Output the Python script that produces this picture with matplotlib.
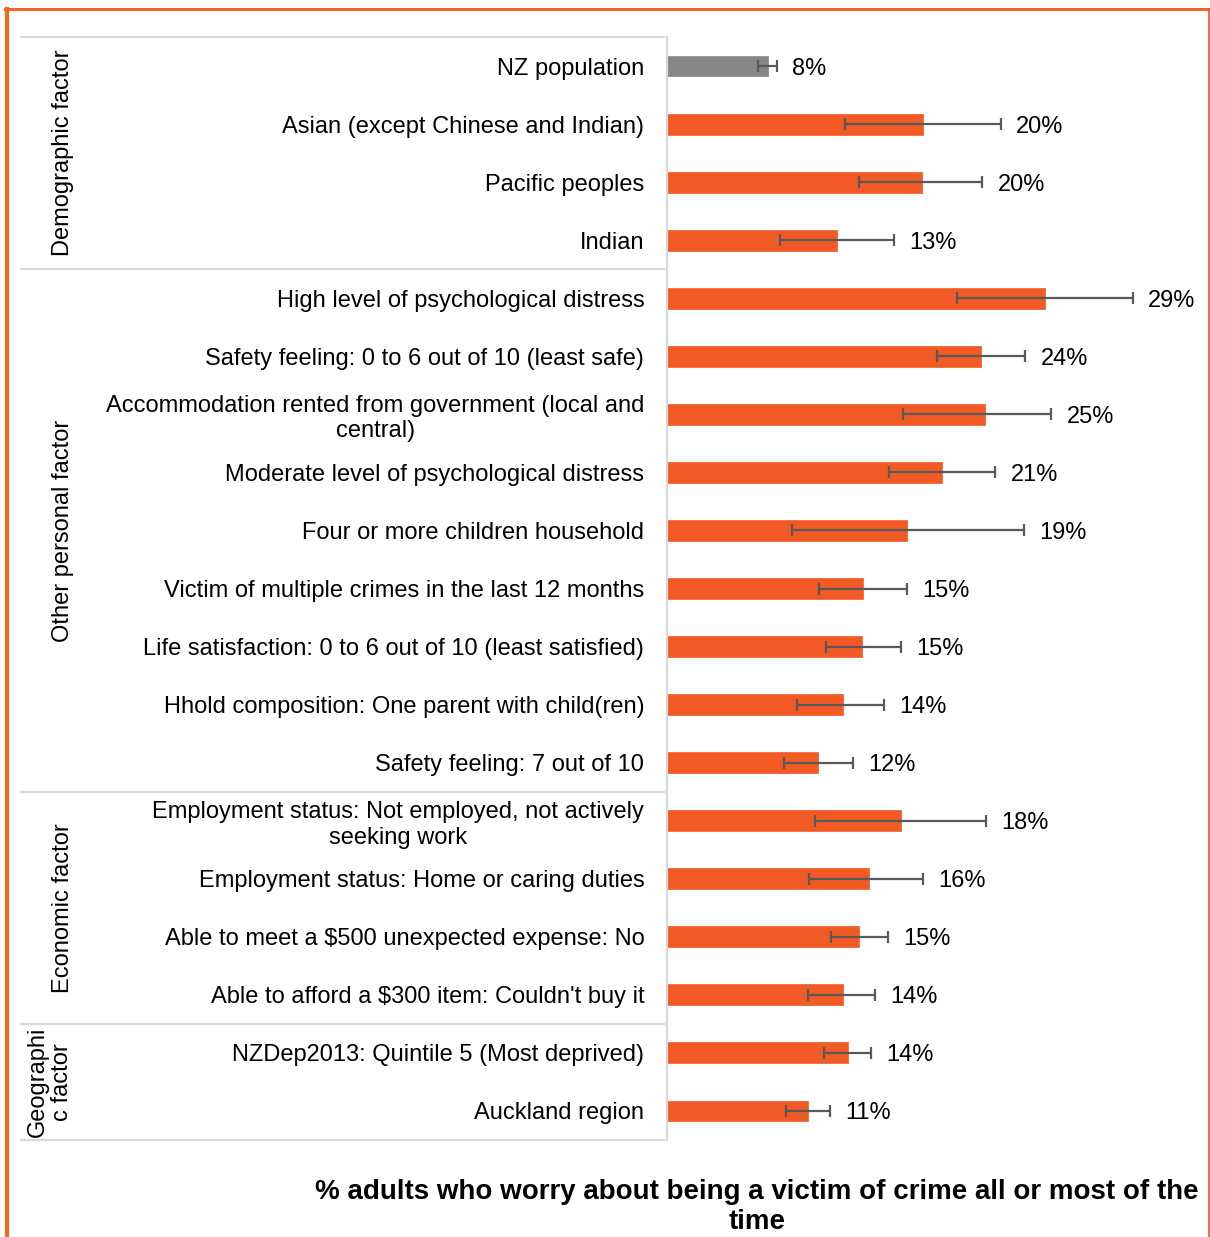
import matplotlib
matplotlib.use('Agg')
import matplotlib.pyplot as plt
from matplotlib.lines import Line2D

plt.rcParams['font.family'] = ['Liberation Sans', 'DejaVu Sans']

categories = [
    'NZ population',
    'Asian (except Chinese and Indian)',
    'Pacific peoples',
    'Indian',
    'High level of psychological distress',
    'Safety feeling: 0 to 6 out of 10 (least safe)',
    'Accommodation rented from government (local and\ncentral)',
    'Moderate level of psychological distress',
    'Four or more children household',
    'Victim of multiple crimes in the last 12 months',
    'Life satisfaction: 0 to 6 out of 10 (least satisfied)',
    'Hhold composition: One parent with child(ren)',
    'Safety feeling: 7 out of 10',
    'Employment status: Not employed, not actively\nseeking work',
    'Employment status: Home or caring duties',
    'Able to meet a $500 unexpected expense: No',
    "Able to afford a $300 item: Couldn't buy it",
    'NZDep2013: Quintile 5 (Most deprived)',
    'Auckland region',
]
groups = ['Demographic factor', 'Other personal factor', 'Economic factor', 'Geographi\nc factor']
group_sizes = [4, 9, 4, 2]

values = [7.8, 19.8, 19.7, 13.2, 29.2, 24.3, 24.6, 21.3, 18.6, 15.2,
          15.1, 13.6, 11.7, 18.1, 15.6, 14.9, 13.6, 14.0, 10.9]
ci_low = [7.1, 13.8, 14.9, 8.8, 22.4, 20.9, 18.3, 17.2, 9.7, 11.8,
          12.3, 10.1, 9.1, 11.5, 11.0, 12.7, 10.9, 12.2, 9.2]
ci_high = [8.5, 25.8, 24.4, 17.6, 36.0, 27.7, 29.7, 25.4, 27.6, 18.6,
           18.1, 16.8, 14.4, 24.7, 19.8, 17.1, 16.1, 15.8, 12.6]
is_total = [True] + [False] * 18

ORANGE = '#F15A24'
GREY = '#878787'
ERR = '#595959'
LINE = '#D9D9D9'

W, H = 1210, 1237
fig = plt.figure(figsize=(W / 100, H / 100), dpi=100)

top_px, bot_px = 37, 1140
bottom = 1 - bot_px / H
height = (bot_px - top_px) / H
x0_px, x1_px = 666.5, 1190
px_per_pct = 12.95

ax = fig.add_axes([x0_px / W, bottom, (x1_px - x0_px) / W, height])
n = len(categories)
ax.set_xlim(0, (x1_px - x0_px) / px_per_pct)
ax.set_ylim(n - 0.5, -0.5)
ypos = list(range(n))
colors = [GREY if t else ORANGE for t in is_total]
ax.barh(ypos, values, height=0.36, color=colors, edgecolor=colors, linewidth=0.5, zorder=2)
xerr = [[v - l for v, l in zip(values, ci_low)], [h - v for v, h in zip(values, ci_high)]]
ax.errorbar(values, ypos, xerr=xerr, fmt='none', ecolor=ERR, elinewidth=1.6,
            capsize=4, capthick=1.6, zorder=3)
for i, (v, h) in enumerate(zip(values, ci_high)):
    ax.annotate(f'{int(v + 0.5)}%', xy=(h, i), xytext=(11, 0), textcoords='offset points',
                ha='left', va='center_baseline', fontsize=17, color='black')

ax.set_yticks(ypos)
ax.set_yticklabels(categories, fontsize=17)
for lbl in ax.get_yticklabels():
    lbl.set_multialignment('center')
ax.tick_params(axis='y', length=0, pad=16)
ax.tick_params(axis='x', bottom=False, labelbottom=False)
for s in ['top', 'right', 'bottom']:
    ax.spines[s].set_visible(False)
ax.spines['left'].set_color(LINE)
ax.spines['left'].set_linewidth(1.6)

# left category panel
lx0, lx1 = 20, 665
axL = fig.add_axes([lx0 / W, bottom, (lx1 - lx0) / W, height])
axL.set_xlim(0, 1)
axL.set_ylim(n - 0.5, -0.5)
axL.axis('off')
bounds = [-0.5]
for g in group_sizes:
    bounds.append(bounds[-1] + g)
axL.hlines(bounds, 0, 1, colors=LINE, linewidth=1.6, clip_on=False)
for gname, a, b in zip(groups, bounds[:-1], bounds[1:]):
    nl = gname.count('\n') + 1
    xc = (63 - 13 * (nl - 1) - lx0) / (lx1 - lx0)
    axL.text(xc, (a + b) / 2, gname, rotation=90, ha='center', va='center',
             fontsize=17, multialignment='center', linespacing=1.1)

# title
fig.text(757 / W, 1 - 1207 / H,
         '% adults who worry about being a victim of crime all or most of the\ntime',
         ha='center', va='center', fontsize=20, fontweight='bold',
         multialignment='center', linespacing=1.22)

# border
fig.add_artist(Line2D([7 / W, 7 / W], [0, 1 - 8.5 / H], transform=fig.transFigure,
                      color='#F26522', linewidth=3))
fig.add_artist(Line2D([5 / W, 1], [1 - 8.5 / H, 1 - 8.5 / H], transform=fig.transFigure,
                      color='#F26522', linewidth=2.2))
fig.add_artist(Line2D([1208.5 / W, 1208.5 / W], [0, 1 - 8.5 / H], transform=fig.transFigure,
                      color='#E8503A', linewidth=1.2))

fig.savefig('out.png', dpi=100)
